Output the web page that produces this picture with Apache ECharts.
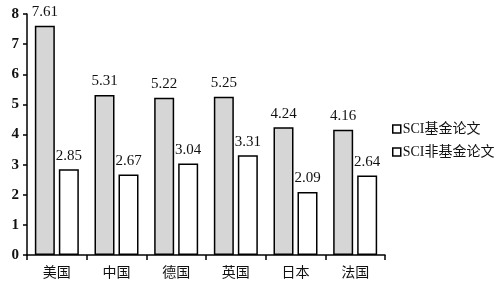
<!DOCTYPE html>
<html><head><meta charset="utf-8">
<script src="https://cdn.jsdelivr.net/npm/echarts@6/dist/echarts.min.js"></script>
<style>html,body{margin:0;padding:0;background:#fff}#c{width:500px;height:302px}</style>
</head><body><div id="c"></div>
<script>
var categories = ['美国','中国','德国','英国','日本','法国'];
var fundedValues = [7.61, 5.31, 5.22, 5.25, 4.24, 4.16];
var nonFundedValues = [2.85, 2.67, 3.04, 3.31, 2.09, 2.64];
var seriesNames = ['SCI基金论文', 'SCI非基金论文'];
var yTicks = [0,1,2,3,4,5,6,7,8];

var numFont = '"Liberation Serif", "DejaVu Serif", serif';
var cjkFont = '"Liberation Serif", "Noto Sans CJK SC", serif';
var chart = echarts.init(document.getElementById('c'));
chart.setOption({
  animation: false,
  backgroundColor: '#fff',
  grid: {left: 27, right: 115, top: 14, bottom: 47, containLabel: false},
  legend: {
    orient: 'vertical', left: 392, top: 122, itemWidth: 8, itemHeight: 8, itemGap: 9, padding: 0,
    icon: 'rect',
    textStyle: {fontFamily: cjkFont, fontSize: 14, fontWeight: 'normal', color: '#111', padding: [0,0,0,-3]},
    data: [
      {name: seriesNames[0], itemStyle: {color: '#fff', borderColor: '#000', borderWidth: 1.5}},
      {name: seriesNames[1], itemStyle: {color: '#fff', borderColor: '#000', borderWidth: 1.5}}
    ]
  },
  xAxis: {
    type: 'category', data: categories,
    axisLine: {lineStyle: {color: '#000', width: 1.5}},
    axisTick: {show: true, length: 5, lineStyle: {color: '#000', width: 1.5}},
    axisLabel: {fontFamily: cjkFont, fontSize: 14, fontWeight: 'normal', color: '#111', margin: 11}
  },
  yAxis: {
    type: 'value', min: 0, max: 8, interval: 1,
    axisLine: {show: true, lineStyle: {color: '#000', width: 1.5}},
    axisTick: {show: true, length: 4, lineStyle: {color: '#000', width: 1.5}},
    splitLine: {show: false},
    axisLabel: {fontFamily: numFont, fontSize: 15, fontWeight: 'bold', color: '#111', margin: 8,
      formatter: function(v){ return yTicks.indexOf(v) >= 0 ? String(v) : ''; }}
  },
  series: [
    {
      name: seriesNames[0], type: 'bar', data: fundedValues, barWidth: 20, barGap: '20%',
      itemStyle: {color: '#d6d6d6', borderColor: '#000', borderWidth: 1.5},
      label: {show: true, position: 'top', distance: 6, fontFamily: numFont, fontSize: 15, fontWeight: 'normal', color: '#111',
        formatter: function(p){ return p.value.toFixed(2); }}
    },
    {
      name: seriesNames[1], type: 'bar', data: nonFundedValues, barWidth: 20,
      itemStyle: {color: '#fff', borderColor: '#000', borderWidth: 1.5},
      label: {show: true, position: 'top', distance: 6, fontFamily: numFont, fontSize: 15, fontWeight: 'normal', color: '#111',
        formatter: function(p){ return p.value.toFixed(2); }}
    }
  ]
});
</script></body></html>
